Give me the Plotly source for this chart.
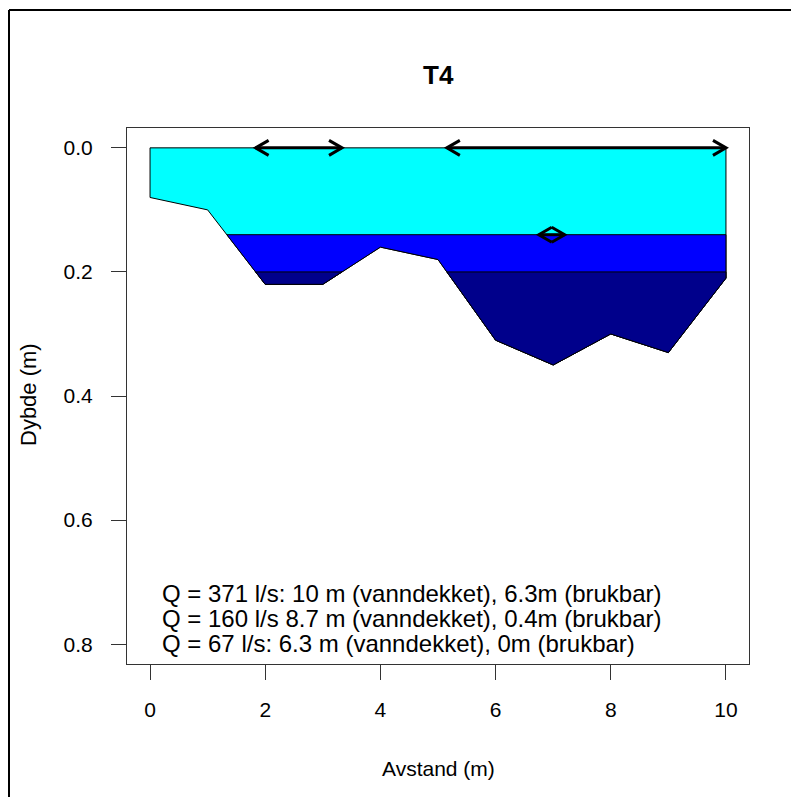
import math
import plotly.graph_objects as go

# ---- data ----
distance = [0, 1, 2, 3, 4, 5, 6, 7, 8, 9, 10]
bed_depth = [0.08, 0.10, 0.22, 0.22, 0.16, 0.18, 0.31, 0.35, 0.30, 0.33, 0.21]
water_levels = [0.0, 0.14, 0.20]          # water surface (depth) for each discharge
level_colors = ["#00FFFF", "#0000FF", "#00008B"]
usable_depth = 0.2                          # min. depth counted as "brukbar"
legend_lines = [
    "Q = 371 l/s: 10 m (vanndekket), 6.3m (brukbar)",
    "Q = 160 l/s 8.7 m (vanndekket), 0.4m (brukbar)",
    "Q = 67 l/s: 6.3 m (vanndekket), 0m (brukbar)",
]
x_ticks = [0, 2, 4, 6, 8, 10]
y_ticks = [0.0, 0.2, 0.4, 0.6, 0.8]
y_tick_text = ["0.0", "0.2", "0.4", "0.6", "0.8"]

# ---- layout constants (page offset of 8px body margin compensated) ----
OFF = 8
W, H = 799 - 2 * OFF, 805 - 2 * OFF
P_L, P_R, P_T, P_B = 127, 749, 128, 664          # plot box in page pixels
ML, MT = P_L - OFF, P_T - OFF
MR, MB = W - (P_R - OFF), H - (P_B - OFF)
XR = [-0.4, 10.4]
YR = [0.832, -0.032]
PW, PH = P_R - P_L, P_B - P_T
FONT = "Liberation Sans, Arial, sans-serif"


def paper_x(px):
    return (px - P_L) / PW


def paper_y(py):
    return 1 - (py - P_T) / PH


def wet_pieces(xs, ds, level):
    """Polygons of the area between water level and bed, where bed is below level."""
    pieces = []
    cur = None
    n = len(xs)
    for i in range(n):
        x, d = xs[i], ds[i]
        if d > level:
            if cur is None:
                if i == 0:
                    cur = [(x, level)]
                else:
                    x0, d0 = xs[i - 1], ds[i - 1]
                    xc = x0 + (level - d0) / (d - d0) * (x - x0)
                    cur = [(xc, level)]
            cur.append((x, d))
        else:
            if cur is not None:
                x0, d0 = xs[i - 1], ds[i - 1]
                xc = x0 + (level - d0) / (d - d0) * (x - x0)
                cur.append((xc, level))
                pieces.append(cur)
                cur = None
    if cur is not None:
        cur.append((xs[-1], level))
        pieces.append(cur)
    return pieces


def usable_spans(xs, ds, level, thr):
    return [(p[0][0], p[-1][0]) for p in wet_pieces(xs, [d - level for d in ds], thr)]


fig = go.Figure()

for lvl, col in zip(water_levels, level_colors):
    px, py = [], []
    for piece in wet_pieces(distance, bed_depth, lvl):
        for (a, b) in piece + [piece[0]]:
            px.append(a)
            py.append(b)
        px.append(None)
        py.append(None)
    fig.add_trace(go.Scatter(x=px, y=py, mode="lines", fill="toself",
                             fillcolor=col, line=dict(color="black", width=1),
                             hoverinfo="skip", showlegend=False))

# double-headed arrows for usable width
sx = PW / (XR[1] - XR[0])
sy = PH / (YR[0] - YR[1])
L_HEAD = 15.0
hx = L_HEAD * math.cos(math.radians(30)) / sx
hy = L_HEAD * math.sin(math.radians(30)) / sy
ax, ay = [], []
for lvl in water_levels:
    for (a, b) in usable_spans(distance, bed_depth, lvl, usable_depth):
        ax += [a + hx, a, a + hx, None, a, b, None, b - hx, b, b - hx, None]
        ay += [lvl - hy, lvl, lvl + hy, None, lvl, lvl, None, lvl - hy, lvl, lvl + hy, None]
fig.add_trace(go.Scatter(x=ax, y=ay, mode="lines", line=dict(color="black", width=3),
                         hoverinfo="skip", showlegend=False))

# legend text
line_y = [593, 618, 643]
for txt, yy in zip(legend_lines, line_y):
    fig.add_annotation(text=txt, xref="paper", yref="paper",
                       x=paper_x(160), y=paper_y(yy),
                       xanchor="left", yanchor="middle", showarrow=False,
                       font=dict(family=FONT, size=24, color="black"))

# titles
fig.add_annotation(text="<b>T4</b>", xref="paper", yref="paper", x=0.5,
                   y=paper_y(75), xanchor="center", yanchor="middle",
                   showarrow=False, font=dict(family=FONT, size=26, color="black"))
fig.add_annotation(text="Avstand (m)", xref="paper", yref="paper", x=0.5,
                   y=paper_y(768), xanchor="center", yanchor="middle",
                   showarrow=False, font=dict(family=FONT, size=21, color="black"))
fig.add_annotation(text="Dybde (m)", xref="paper", yref="paper",
                   x=paper_x(28), y=paper_y(395), textangle=-90,
                   xanchor="center", yanchor="middle",
                   showarrow=False, font=dict(family=FONT, size=22, color="black"))

# outer figure border (left and top visible)
bx = paper_x(OFF + 1)
by = paper_y(10)
fig.add_shape(type="line", xref="paper", yref="paper", x0=bx, x1=bx, y0=by, y1=-1,
              line=dict(color="black", width=2))
fig.add_shape(type="line", xref="paper", yref="paper", x0=bx, x1=2, y0=by, y1=by,
              line=dict(color="black", width=2))

fig.update_xaxes(range=XR, tickvals=x_ticks, ticks="outside", ticklen=15,
                 tickwidth=1, tickcolor="#333", showline=True, mirror=True,
                 linecolor="#333", linewidth=1, showgrid=False, zeroline=False,
                 ticklabelstandoff=12,
                 tickfont=dict(family=FONT, size=21, color="black"))
fig.update_yaxes(range=YR, tickvals=y_ticks, ticktext=y_tick_text, ticks="outside",
                 ticklen=15, tickwidth=1, tickcolor="#333", showline=True, mirror=True,
                 linecolor="#333", linewidth=1, showgrid=False, zeroline=False,
                 ticklabelstandoff=14,
                 tickfont=dict(family=FONT, size=21, color="black"))

fig.update_layout(width=W, height=H, margin=dict(l=ML, r=MR, t=MT, b=MB),
                  plot_bgcolor="white", paper_bgcolor="white", showlegend=False)

fig.write_html("out.html")
